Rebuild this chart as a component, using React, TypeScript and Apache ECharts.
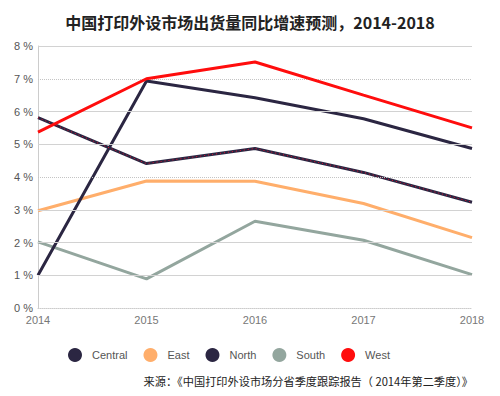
import React, { useEffect, useRef } from "react";
import * as echarts from "echarts";

const years = ["2014", "2015", "2016", "2017", "2018"];
const central = [1.0, 6.93, 6.42, 5.78, 4.87];
const east = [2.97, 3.88, 3.87, 3.19, 2.15];
const north = [5.81, 4.41, 4.87, 4.14, 3.23];
const south = [2.02, 0.89, 2.65, 2.07, 1.02];
const west = [5.37, 7.0, 7.51, 6.5, 5.5];
const yTicks = [0, 1, 2, 3, 4, 5, 6, 7, 8];
const dottedTicks = [4, 7];

const title = "中国打印外设市场出货量同比增速预测，2014-2018";
const source = "来源：《中国打印外设市场分省季度跟踪报告（ 2014年第二季度）》";

export default function App() {
  const ref = useRef<HTMLDivElement>(null);
  useEffect(() => {
    const chart = echarts.init(ref.current!, null, { renderer: "svg" });
    const mk = (name: string, data: number[], color: string, z = 2) => ({
      name,
      type: "line",
      data,
      symbol: "none",
      z,
      lineStyle: { color, width: 3 },
      itemStyle: { color },
    });
    chart.setOption({
      animation: false,
      backgroundColor: "#fff",
      title: {
        text: title,
        left: "center",
        top: 9,
        textStyle: {
          fontFamily: "Noto Sans CJK SC",
          fontSize: 16,
          fontWeight: "bold",
          color: "#222",
        },
      },
      grid: { left: 38, right: 28, top: 46, bottom: 88 },
      xAxis: {
        type: "category",
        data: years,
        boundaryGap: false,
        axisLine: { show: true, lineStyle: { color: "#ccc", type: "dotted", width: 1 } },
        axisTick: { show: false },
        axisLabel: { color: "#777", fontSize: 11, fontFamily: "Liberation Sans", margin: 6 },
        splitLine: { show: false },
      },
      yAxis: {
        type: "value",
        min: yTicks[0],
        max: yTicks[yTicks.length - 1],
        interval: 1,
        axisLine: { show: true, lineStyle: { color: "#ccc" } },
        axisTick: { show: false },
        axisLabel: {
          color: "#555",
          fontSize: 11,
          fontFamily: "Liberation Sans",
          formatter: (v: number) => `${v} %`,
          margin: 5,
        },
        splitLine: { show: false },
      },
      legend: {
        left: 63,
        top: 343,
        icon: "circle",
        itemWidth: 14,
        itemHeight: 14,
        itemGap: 16,
        data: ["Central", "East", "North", "South", "West"],
        textStyle: {
          color: "#555",
          fontSize: 11,
          fontFamily: "Liberation Sans",
          padding: [0, 0, 0, 5],
        },
      },
      graphic: [
        {
          type: "text",
          right: 27,
          top: 375,
          style: {
            text: source,
            fill: "#222",
            fontSize: 11.2,
            fontFamily: "Noto Sans CJK SC",
          },
        },
      ],
      series: [
        {
          name: "grid",
          type: "line",
          data: [],
          z: 1,
          silent: true,
          markLine: {
            silent: true,
            symbol: "none",
            label: { show: false },
            animation: false,
            data: yTicks
              .filter((t) => t > yTicks[0])
              .map((t) => ({
                yAxis: t,
                lineStyle: {
                  color: dottedTicks.includes(t) ? "#c4c4c4" : "#d2d2d2",
                  width: 1,
                  type: dottedTicks.includes(t) ? "dotted" : "solid",
                },
              })),
          },
        },
        mk("South", south, "#93a69e"),
        mk("East", east, "#ffae6b"),
        mk("North", north, "#2b2642", 3),
        {
          name: "NorthDots",
          type: "line",
          data: north,
          symbol: "none",
          z: 4,
          silent: true,
          legendHoverLink: false,
          lineStyle: { color: "#e01030", width: 1, type: [1, 3] },
        },
        mk("Central", central, "#2b2642", 3),
        mk("West", west, "#ff0d0d", 5),
      ],
    });
    return () => chart.dispose();
  }, []);
  return <div ref={ref} style={{ width: 500, height: 396, margin: -8 }} />;
}
